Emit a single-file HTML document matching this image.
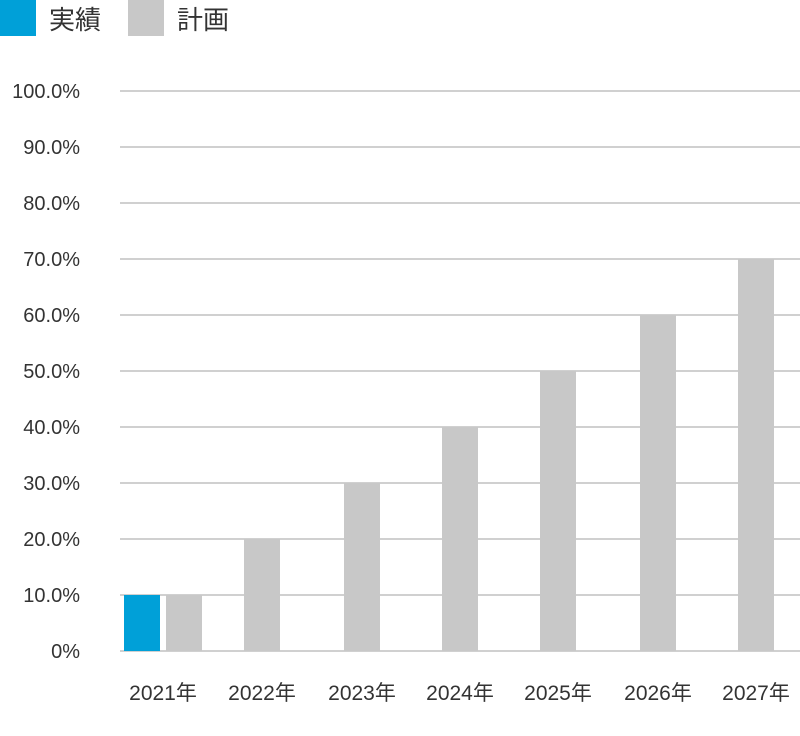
<!DOCTYPE html>
<html><head><meta charset="utf-8"><style>
html,body{margin:0;padding:0;background:#fff;width:800px;height:736px;overflow:hidden}
svg text{font-family:"Liberation Sans","Noto Sans CJK JP",sans-serif;fill:#333}
</style></head><body>
<svg width="800" height="736" viewBox="0 0 800 736" xmlns="http://www.w3.org/2000/svg">
<rect x="0" y="0" width="36" height="36" fill="#00a0d8"/>
<text x="49" y="29" font-size="26">実績</text>
<rect x="128" y="0" width="36" height="36" fill="#c8c8c8"/>
<text x="177" y="29" font-size="26">計画</text>
<g stroke="#d0d0d0" stroke-width="2">
<line x1="120" x2="800" y1="91" y2="91"/><line x1="120" x2="800" y1="147" y2="147"/>
<line x1="120" x2="800" y1="203" y2="203"/><line x1="120" x2="800" y1="259" y2="259"/>
<line x1="120" x2="800" y1="315" y2="315"/><line x1="120" x2="800" y1="371" y2="371"/>
<line x1="120" x2="800" y1="427" y2="427"/><line x1="120" x2="800" y1="483" y2="483"/>
<line x1="120" x2="800" y1="539" y2="539"/><line x1="120" x2="800" y1="595" y2="595"/>
<line x1="120" x2="800" y1="651" y2="651"/>
</g>
<g font-size="20" text-anchor="end">
<text x="80" y="98">100.0%</text><text x="80" y="154">90.0%</text>
<text x="80" y="210">80.0%</text><text x="80" y="266">70.0%</text>
<text x="80" y="322">60.0%</text><text x="80" y="378">50.0%</text>
<text x="80" y="434">40.0%</text><text x="80" y="490">30.0%</text>
<text x="80" y="546">20.0%</text><text x="80" y="602">10.0%</text>
<text x="80" y="658">0%</text>
</g>
<rect x="124" y="595" width="36" height="56" fill="#00a0d8"/>
<g fill="#c8c8c8">
<rect x="166" y="595" width="36" height="56"/>
<rect x="244" y="539" width="36" height="112"/>
<rect x="344" y="483" width="36" height="168"/>
<rect x="442" y="427" width="36" height="224"/>
<rect x="540" y="371" width="36" height="280"/>
<rect x="640" y="315" width="36" height="336"/>
<rect x="738" y="259" width="36" height="392"/>
</g>
<g font-size="21" text-anchor="middle">
<text x="163" y="700">2021年</text><text x="262" y="700">2022年</text>
<text x="362" y="700">2023年</text><text x="460" y="700">2024年</text>
<text x="558" y="700">2025年</text><text x="658" y="700">2026年</text>
<text x="756" y="700">2027年</text>
</g>
</svg>
</body></html>
